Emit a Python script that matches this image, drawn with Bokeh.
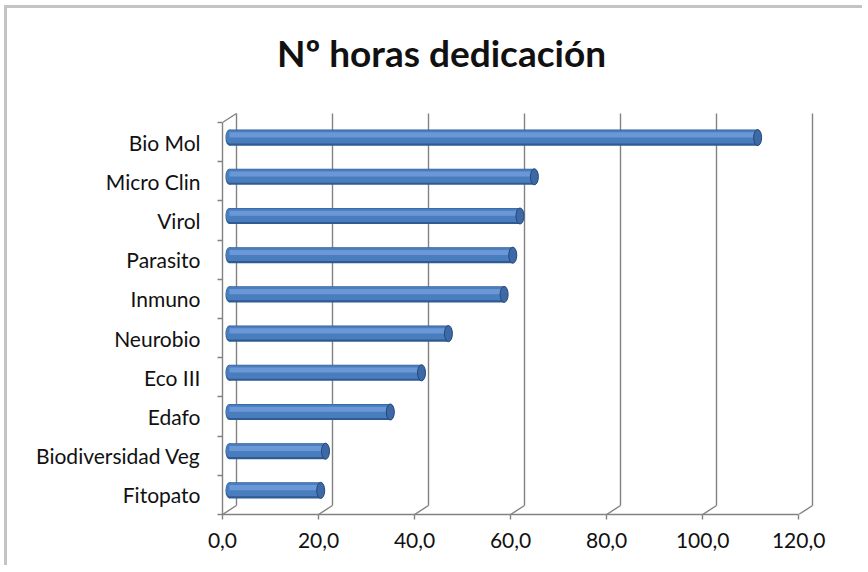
from bokeh.plotting import figure
from bokeh.models import (Range1d, LinearAxis, FixedTicker, Grid,
                          CustomJSTickFormatter, Label, ColumnDataSource)
from bokeh.embed import file_html
from bokeh.resources import INLINE
from bokeh.transform import dodge

# ---------------- data ----------------
title_text = "Nº horas dedicación"
categories = ["Bio Mol", "Micro Clin", "Virol", "Parasito", "Inmuno",
              "Neurobio", "Eco III", "Edafo", "Biodiversidad Veg", "Fitopato"]
hours = [110.0, 63.5, 60.5, 59.0, 57.2, 45.6, 40.0, 33.5, 20.0, 19.0]
x_ticks = [0, 20, 40, 60, 80, 100, 120]

# ---------------- geometry (3-D look) ----------------
n = len(categories)
ypos = [n - 1 - i + 0.5 for i in range(n)]   # top category first
DX = 1.45      # half depth, x units
DY = 0.115     # half depth, y units
X_SPAN = 123.5
Y_SPAN = 12.73  # frame reaches up to the title area (invisible frame)

AX = "#828282"
FONT = "Lato"

p = figure(width=858, height=560,
           x_range=Range1d(-DX, X_SPAN - DX),
           y_range=Range1d(-DY, Y_SPAN - DY),
           x_axis_location=None, y_axis_location=None,
           output_backend="svg", toolbar_location=None,
           min_border_left=215, min_border_right=50,
           min_border_top=7, min_border_bottom=54,
           outline_line_color=None,
           background_fill_color="white", border_fill_color="white",
           styles={"margin": "5px 0 0 4px",
                   "border-left": "3px solid #c4c4c4",
                   "border-top": "3px solid #c4c4c4"})
p.grid.visible = False

p.extra_x_ranges = {"front": Range1d(0, X_SPAN),
                    "back": Range1d(-2 * DX, X_SPAN - 2 * DX)}
p.extra_y_ranges = {"front": Range1d(0, Y_SPAN),
                    "back": Range1d(-2 * DY, Y_SPAN - 2 * DY)}

# back wall gridlines
g = Grid(dimension=0, ticker=FixedTicker(ticks=x_ticks),
         x_range_name="back", y_range_name="back",
         cross_bounds=(0, n),
         grid_line_color=AX, grid_line_width=1.4)
p.add_layout(g)

# floor diagonals and top-left corner diagonal
p.segment(x0=[t - DX for t in x_ticks], y0=[-DY] * len(x_ticks),
          x1=[t + DX for t in x_ticks], y1=[DY] * len(x_ticks),
          line_color=AX, line_width=1.4)
p.segment(x0=[-DX], y0=[n - DY], x1=[DX], y1=[n + DY],
          line_color=AX, line_width=1.4)

# x axis (front)
xa = LinearAxis(x_range_name="front", ticker=FixedTicker(ticks=x_ticks),
                bounds=(0, x_ticks[-1]),
                formatter=CustomJSTickFormatter(
                    code="return tick.toFixed(1).replace('.', ',');"),
                axis_line_color=AX, axis_line_width=1.4,
                major_tick_line_color=AX, major_tick_line_width=1.4,
                major_tick_out=5, major_tick_in=0,
                minor_tick_line_color=None,
                major_label_text_font=FONT,
                major_label_text_font_size="21px",
                major_label_text_color="#111111",
                major_label_standoff=13)
p.add_layout(xa, "below")

# y axis (front)
ya = LinearAxis(y_range_name="front",
                ticker=FixedTicker(ticks=ypos, minor_ticks=list(range(n + 1))),
                bounds=(0, n),
                major_label_overrides={y: c for y, c in zip(ypos, categories)},
                axis_line_color=AX, axis_line_width=1.4,
                major_tick_line_color=None, major_tick_out=0, major_tick_in=0,
                minor_tick_line_color=AX, minor_tick_line_width=1.4,
                minor_tick_out=5, minor_tick_in=0,
                major_label_text_font=FONT,
                major_label_text_font_size="21px",
                major_label_text_color="#111111",
                major_label_standoff=17)
p.add_layout(ya, "left")

# bars (cylinders)
src = ColumnDataSource(dict(cat=categories, hours=hours, y=ypos))
BH = 0.41
p.ellipse(x=0, y="y", width=8, height=BH, width_units="screen",
          source=src, fill_color="#2f5b93", line_color=None)
p.hbar(y="y", left=0, right="hours", height=BH, source=src,
       fill_color="#2f5b93", line_color=None)
p.ellipse(x=0, y=dodge("y", 0.02), width=7, height=BH - 0.07,
          width_units="screen", source=src,
          fill_color="#4a7dbd", line_color=None)
p.hbar(y=dodge("y", 0.02), left=0, right="hours", height=BH - 0.07,
       source=src, fill_color="#4a7dbd", line_color=None)
p.hbar(y=dodge("y", 0.07), left=0, right="hours", height=0.13,
       source=src, fill_color="#6a98d6", line_color=None)
p.ellipse(x="hours", y="y", width=8, height=BH, width_units="screen",
          source=src, fill_color="#3d6aa6", line_color="#24487a",
          line_width=1)

# title (placed in the invisible upper part of the frame)
p.add_layout(Label(x=45.6, y=11.79, x_range_name="front", y_range_name="front",
                   text=title_text, text_font=FONT,
                   text_font_size="37px", text_font_style="bold",
                   text_color="#111111",
                   text_align="center", text_baseline="middle"))

open("out.html", "w").write(file_html(p, INLINE))
